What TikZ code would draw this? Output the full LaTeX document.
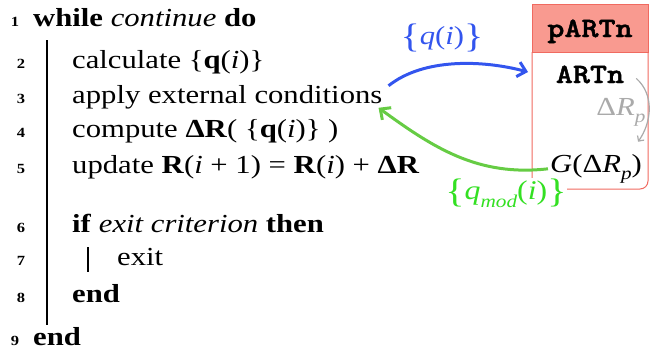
\documentclass[tikz,border=0pt]{standalone}
\usepackage{fontspec}
\setmainfont{Liberation Serif}[FakeStretch=1.18]
\newfontfamily\monob{Latin Modern Mono Light}[FakeStretch=1.16,BoldFeatures={FakeBold=1.6}]
\usetikzlibrary{arrows.meta,calc}
\definecolor{boxred}{HTML}{F06A60}
\definecolor{hdrfill}{HTML}{F99A90}
\definecolor{qblue}{HTML}{3355EE}
\definecolor{qgreen}{HTML}{66CC44}
\definecolor{lgreen}{HTML}{33E022}
\definecolor{dgray}{HTML}{AAAAAA}
\newcommand\lowtxt[1]{\raisebox{-0.3em}{\fontsize{18}{18}\selectfont\itshape #1}}
\newcommand\bigbr[1]{\raisebox{-0.12em}{\fontsize{34}{34}\selectfont #1}}
\begin{document}
\begin{tikzpicture}[x=1pt,y=-1pt,
  alg/.style={anchor=base west,inner sep=0pt,font=\fontsize{26}{30}\selectfont},
  num/.style={anchor=base,inner sep=0pt,font=\fontsize{14}{16}\selectfont\bfseries},
  mono/.style={anchor=base,inner sep=0pt,font=\fontsize{28}{30}\selectfont\monob\bfseries},
  boxmath/.style={anchor=base,inner sep=2pt,font=\fontsize{26}{30}\selectfont},
  flow/.style={line width=3pt,-{Straight Barb[length=8pt,width=15pt]}},
  ]
\useasboundingbox (0,0) rectangle (664,354);
% line numbers
\node[num] (n1) at (15,26) {1};
\node[num] (n2) at (21,68.5) {2};
\node[num] (n3) at (21,103) {3};
\node[num] (n4) at (21,137.5) {4};
\node[num] (n5) at (21,173) {5};
\node[num] (n6) at (21,232) {6};
\node[num] (n7) at (21,265) {7};
\node[num] (n8) at (21,302) {8};
\node[num] (n9) at (15,345) {9};
% algorithm text
\node[alg] (l1) at (33,26) {\textbf{while} \textit{continue} \textbf{do}};
\node[alg] (l2) at (72,68.5) {calculate \{\textbf{q}(\textit{i})\}};
\node[alg] (l3) at (72,103) {apply external conditions};
\node[alg] (l4) at (72,137.5) {compute \textbf{ΔR}( \{\textbf{q}(\textit{i})\} )};
\node[alg] (l5) at (72,173) {update \textbf{R}(\textit{i} + 1) = \textbf{R}(\textit{i}) + \textbf{ΔR}};
\node[alg] (l6) at (72,232) {\textbf{if} \textit{exit criterion} \textbf{then}};
\node[alg] (l7) at (117,265) {exit};
\node[alg] (l8) at (72,302) {\textbf{end}};
\node[alg] (l9) at (33,345) {\textbf{end}};
\draw[line width=1.6pt] (47,40) -- (47,325);
\draw[line width=1.4pt] (88,247) -- (88,272);
% box
\fill[hdrfill] (532,4) rectangle (648,52);
\draw[boxred,line width=1pt] (532,52) -- (532,4) -- (648,4) -- (648,52) -- cycle;
\draw[boxred,line width=1pt] (532,52) -- (532,189) -- (640,189) arc[start angle=90,end angle=0,radius=8] -- (648,52);
\node[mono] (hdr) at (590,37) {pARTn};
\node[mono] (artn) at (590,83) {ARTn};
\node[boxmath,text=dgray] (dr) at (621,115) {Δ\textit{R}\lowtxt{p}};
\node[boxmath] (g) at (596,172) {\textit{G}(Δ\textit{R}\lowtxt{p})};
% labels
\node[text=qblue,font=\fontsize{26}{30}\selectfont,inner sep=1pt] (ql) at (442,38) {\bigbr{\{}\textit{q}(\textit{i})\bigbr{\}}};
\node[text=lgreen,fill=white,font=\fontsize{27}{30}\selectfont,inner sep=0.5pt] (qm) at (506,193) {\bigbr{\{}\textit{q}\lowtxt{mod}(\textit{i})\bigbr{\}}};
% arrows
\coordinate (bstart) at ($(l3.east)+(6,-11)$);
\coordinate (bend) at (528,72);
\draw[qblue,flow] (bstart) .. controls +(35,-28) and +(-45,-12) .. (bend);
\coordinate (gend) at ($(l3.east)+(-4,11)$);
\draw[qgreen,flow] (g.west) .. controls +(-70,8) and +(55,40) .. (gend);
\coordinate (dstart) at ($(artn.east)+(12,4)$);
\coordinate (dend) at ($(g.north east)+(-6,-10)$);
\draw[dgray,line width=1.2pt,-{Straight Barb[length=4pt,width=8pt]}] (dstart) .. controls +(18,16) and +(14,-20) .. (dend);
\end{tikzpicture}
\end{document}
